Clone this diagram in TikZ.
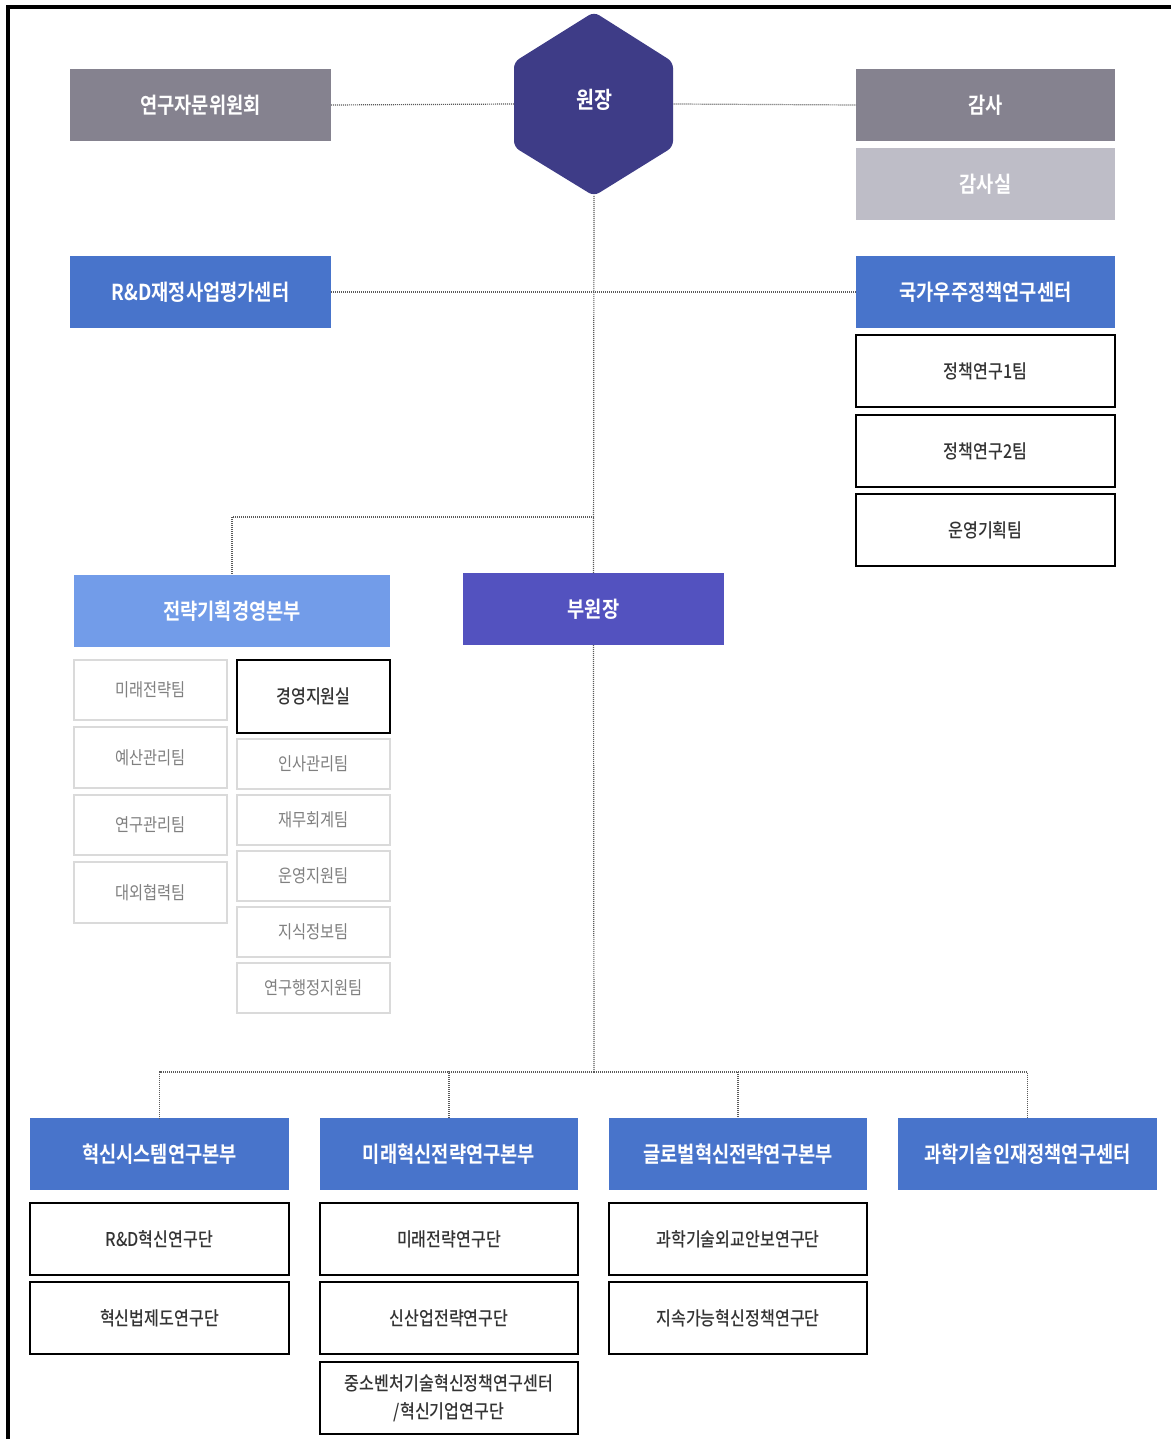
\documentclass[tikz,border=0pt]{standalone}
\usepackage{fontspec}
\setmainfont{Noto Sans CJK KR}[FakeStretch=0.85,BoldFont={Noto Sans CJK KR Bold},BoldFeatures={FakeStretch=0.85}]
\newfontfamily\krmed{Noto Sans CJK KR Medium}[FakeStretch=0.85]
\definecolor{cgray}{HTML}{85828F}
\definecolor{clgray}{HTML}{BEBDC7}
\definecolor{cblue}{HTML}{4874CB}
\definecolor{clblue}{HTML}{729CE9}
\definecolor{cviolet}{HTML}{5352BF}
\definecolor{cnavy}{HTML}{3E3C87}
\definecolor{cline}{HTML}{5A5A5A}
\definecolor{cteam}{HTML}{DADADA}
\newcommand\bx[7]{\node[#6, minimum width={(#4-#2)*0.5pt}, minimum height={(#5-#3)*0.5pt}] (#1) at ({(#2+#4)/2},{(#3+#5)/2}) {#7};}
\tikzset{
  base/.style={inner sep=0pt, outer sep=0pt, align=center, font=\fontsize{11}{13}\selectfont},
  gbox/.style={base, fill=cgray, text=white, font=\fontsize{11}{13}\selectfont\bfseries},
  lgbox/.style={base, fill=clgray, text=white, font=\fontsize{11}{13}\selectfont\bfseries},
  hbox/.style={base, fill=cblue, text=white, font=\fontsize{11}{13}\selectfont\bfseries},
  lhbox/.style={base, fill=clblue, text=white, font=\fontsize{11}{13}\selectfont\bfseries},
  vbox/.style={base, fill=cviolet, text=white, font=\fontsize{11}{13}\selectfont\bfseries},
  wbox/.style={base, fill=white, draw=black, line width=1pt, text=black!80, font=\fontsize{9.5}{14}\selectfont\krmed},
  tbox/.style={base, fill=white, draw=cteam, line width=0.6pt, text=black!50, font=\fontsize{9}{11}\selectfont},
  conn/.style={draw=cline, line width=0.6pt, dash pattern=on 0.5pt off 0.5pt},
}
\begin{document}
\begin{tikzpicture}[x=0.5pt,y=-0.5pt]
\useasboundingbox (0,0) rectangle (1171,1439);
\fill[white] (0,0) rectangle (1171,1439);
% frame
\draw[line width=2pt] (8,1439) -- (8,7) -- (1171,7);
% top row
\bx{jamun}{70}{69}{331}{141}{gbox}{연구자문위원회}
\bx{gamsa}{856}{69}{1115}{141}{gbox}{감사}
\bx{gamsasil}{856}{148}{1115}{220}{lgbox}{감사실}
\node[base, minimum width=79.5pt, minimum height=92pt] (won) at (594,104) {};
\fill[cnavy, rounded corners=3pt] (594,12) -- (673,62) -- (673,147) -- (594,196) -- (514,147) -- (514,62) -- cycle;
\node[base, text=white, font=\fontsize{11.5}{13}\selectfont\bfseries] (wontxt) at (594,100) {원장};
% second row
\bx{rnd}{70}{256}{331}{328}{hbox}{R\&D재정사업평가센터}
\bx{space}{856}{256}{1115}{328}{hbox}{국가우주정책연구센터}
\bx{p1}{856}{335}{1115}{407}{wbox}{정책연구1팀}
\bx{p2}{856}{415}{1115}{487}{wbox}{정책연구2팀}
\bx{p3}{856}{494}{1115}{566}{wbox}{운영기획팀}
% strategy
\bx{jeon}{74}{575}{390}{647}{lhbox}{전략기획경영본부}
\bx{bu}{463}{573}{724}{645}{vbox}{부원장}
\bx{t1}{74}{660}{227}{720}{tbox}{미래전략팀}
\bx{t2}{74}{727}{227}{788}{tbox}{예산관리팀}
\bx{t3}{74}{795}{227}{855}{tbox}{연구관리팀}
\bx{t4}{74}{862}{227}{923}{tbox}{대외협력팀}
\bx{gy}{237}{660}{390}{733}{wbox, font=\fontsize{9.5}{11}\selectfont\krmed}{경영지원실}
\bx{r1}{237}{739}{390}{789}{tbox}{인사관리팀}
\bx{r2}{237}{795}{390}{845}{tbox}{재무회계팀}
\bx{r3}{237}{851}{390}{901}{tbox}{운영지원팀}
\bx{r4}{237}{907}{390}{957}{tbox}{지식정보팀}
\bx{r5}{237}{963}{390}{1013}{tbox}{연구행정지원팀}
% bottom
\bx{h1}{30}{1118}{289}{1190}{hbox}{혁신시스템연구본부}
\bx{h2}{320}{1118}{578}{1190}{hbox}{미래혁신전략연구본부}
\bx{h3}{609}{1118}{867}{1190}{hbox}{글로벌혁신전략연구본부}
\bx{h4}{898}{1118}{1157}{1190}{hbox}{과학기술인재정책연구센터}
\bx{a1}{30}{1203}{289}{1275}{wbox}{R\&D혁신연구단}
\bx{a2}{30}{1282}{289}{1354}{wbox}{혁신법제도연구단}
\bx{b1}{320}{1203}{578}{1275}{wbox}{미래전략연구단}
\bx{b2}{320}{1282}{578}{1354}{wbox}{신산업전략연구단}
\bx{b3}{320}{1362}{578}{1434}{wbox}{중소벤처기술혁신정책연구센터\\/혁신기업연구단}
\bx{c1}{609}{1203}{867}{1275}{wbox}{과학기술외교안보연구단}
\bx{c2}{609}{1282}{867}{1354}{wbox}{지속가능혁신정책연구단}
% connectors
\coordinate (j1) at (594,517);
\coordinate (j2) at (594,1072);
\draw[conn] (jamun.east) -- (won.west);
\draw[conn] (won.east) -- (gamsa.west);
\draw[conn] (rnd.east) -- (space.west);
\draw[conn] (won.south) -- (bu.north);
\draw[conn] (j1) -| (jeon.north);
\draw[conn] (bu.south) -- (j2);
\draw[conn] (j2) -| (h1.north);
\draw[conn] (j2) -| (h2.north);
\draw[conn] (j2) -| (h3.north);
\draw[conn] (j2) -| (h4.north);
\end{tikzpicture}
\end{document}
